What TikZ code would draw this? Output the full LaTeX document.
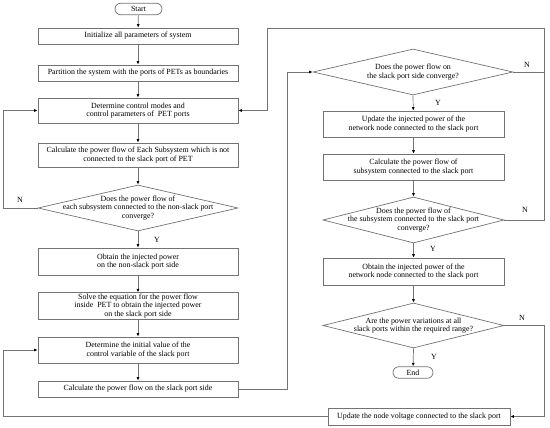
\documentclass[tikz,border=0pt]{standalone}
\usepackage{fontspec}
\setmainfont{Liberation Serif}
\usetikzlibrary{shapes.geometric,shapes.misc,arrows.meta}
\begin{document}
\begin{tikzpicture}[x=1pt,y=-1pt,
  every node/.style={font=\fontsize{7.9}{8.6}\selectfont, inner sep=0pt, align=center},
  proc/.style={draw=black!55, line width=0.7pt, rectangle, fill=white},
  term/.style={draw=black!55, line width=0.7pt, rounded rectangle, minimum width=#1, minimum height=11.5pt},
  dia/.style={draw=black!55, line width=0.7pt, diamond, minimum width=#1},
  lab/.style={font=\fontsize{7.9}{8.6}\selectfont},
  con/.style={draw=black!55, line width=0.7pt},
  arr/.style={con, -{Latex[length=3.5pt,width=3pt,black]}}
]
\useasboundingbox (0,0) rectangle (550,428);

% left column
\node[term=47pt] (start) at (138.5,9) {Start};
\node[proc, minimum width=200pt, minimum height=16pt] (init) at (138,36) {Initialize all parameters of system};
\node[proc, minimum width=200pt, minimum height=16pt] (part) at (138,73) {Partition the system with the ports of PETs as boundaries};
\node[proc, minimum width=200pt, minimum height=25pt] (det) at (138,110.5) {Determine control modes and\\control parameters of\ \ PET ports};
\node[proc, minimum width=200pt, minimum height=24pt] (calc1) at (138,155) {Calculate the power flow of Each Subsystem which is not\\connected to the slack port of PET};
\node[dia=200pt, minimum height=46pt, aspect=4.35] (dia1) at (138,208) {};
\node (dia1t) at (dia1.center) {Does the power flow of\\each subsystem connected to the non-slack port\\converge?};
\node[proc, minimum width=200pt, minimum height=27pt] (obt1) at (138,261.5) {Obtain the injected power\\on the non-slack port side};
\node[proc, minimum width=200pt, minimum height=26.5pt] (solve) at (138,306) {Solve the equation for the power flow\\inside\ \ PET to obtain the injected power\\on the slack port side};
\node[proc, minimum width=200pt, minimum height=26pt] (detinit) at (138,350) {Determine the initial value of the\\control variable of the slack port};
\node[proc, minimum width=200pt, minimum height=16pt] (calcs) at (138,389) {Calculate the power flow on the slack port side};

% right column
\node[dia=200pt, minimum height=46pt, aspect=4.35] (dia2) at (413,72) {};
\node (dia2t) at (dia2.center) {Does the power flow on\\the slack port side converge?};
\node[proc, minimum width=181pt, minimum height=26pt] (upd1) at (413.5,124) {Update the injected power of the\\network node connected to the slack port};
\node[proc, minimum width=181pt, minimum height=26pt] (calcsub) at (413.5,167) {Calculate the power flow of\\subsystem connected to the slack port};
\node[dia=181pt, minimum height=46pt, aspect=3.93] (dia3) at (413.5,220) {};
\node (dia3t) at (dia3.center) {Does the power flow of\\the subsystem connected to the slack port\\converge?};
\node[proc, minimum width=181pt, minimum height=27pt] (obt2) at (413.5,271.5) {Obtain the injected power of the\\network node connected to the slack port};
\node[dia=181pt, minimum height=45pt, aspect=4.02] (dia4) at (413.5,325.5) {};
\node (dia4t) at (dia4.center) {Are the power variations at all\\slack ports within the required range?};
\node[term=40pt] (end) at (413,372.5) {End};
\node[proc, minimum width=182pt, minimum height=17pt] (updv) at (419,416.5) {Update the node voltage connected to the slack port};

% coordinates for loops
\coordinate (l1a) at (3,208);
\coordinate (l1b) at (3,110.5);
\coordinate (r2a) at (287,389);
\coordinate (r2b) at (287,72);
\coordinate (e2) at (544,72);
\coordinate (e3a) at (544,220);
\coordinate (e3b) at (544,28);
\coordinate (e3c) at (267,28);
\coordinate (e3d) at (267,110.5);
\coordinate (e4a) at (544,325.5);
\coordinate (e4b) at (544,416.5);
\coordinate (b1) at (3,416.5);
\coordinate (b2) at (3,350);

% main flow
\draw[arr] (start) -- (init);
\draw[arr] (init) -- (part);
\draw[arr] (part) -- (det);
\draw[arr] (det) -- (calc1);
\draw[arr] (calc1) -- (dia1.north);
\draw[arr] (dia1.south) -- (obt1);
\draw[arr] (obt1) -- (solve);
\draw[arr] (solve) -- (detinit);
\draw[arr] (detinit) -- (calcs);

\draw[arr] (dia2.south) -- (upd1);
\draw[arr] (upd1) -- (calcsub);
\draw[arr] (calcsub) -- (dia3.north);
\draw[arr] (dia3.south) -- (obt2);
\draw[arr] (obt2) -- (dia4.north);
\draw[arr] (dia4.south) -- (end);

% loops
\draw[arr] (dia1.west) -- (l1a) -- (l1b) -- (det.west);
\draw[arr] (calcs.east) -- (r2a) -- (r2b) -- (dia2.west);
\draw[con] (dia2.east) -- (e2);
\draw[arr] (dia3.east) -- (e3a) -- (e3b) -- (e3c) -- (e3d) -- (det.east);
\draw[arr] (dia4.east) -- (e4a) -- (e4b) -- (updv.east);
\draw[arr] (updv.west) -- (b1) -- (b2) -- (detinit.west);

% labels
\node[lab] (n1) at (20,200) {N};
\node[lab] (y1) at (157,240) {Y};
\node[lab] (n2) at (527,65) {N};
\node[lab] (y2) at (438,103) {Y};
\node[lab] (n3) at (525,210) {N};
\node[lab] (y3) at (433,249) {Y};
\node[lab] (n4) at (522,318) {N};
\node[lab] (y4) at (434,357) {Y};
\end{tikzpicture}
\end{document}
